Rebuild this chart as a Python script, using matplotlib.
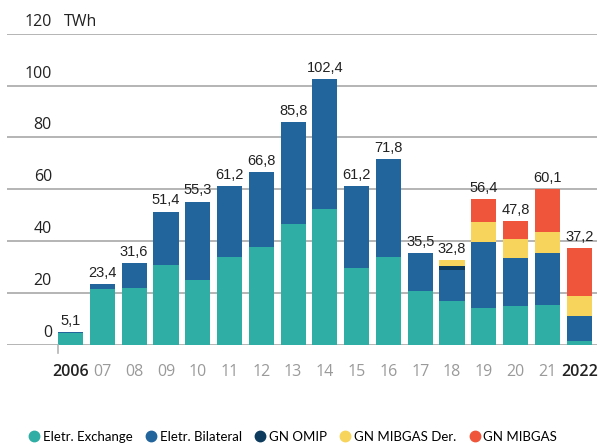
import matplotlib
matplotlib.use("Agg")
import matplotlib.pyplot as plt
from matplotlib.lines import Line2D
import numpy as np

# data (TWh)
years = ["2006", "07", "08", "09", "10", "11", "12", "13", "14", "15",
         "16", "17", "18", "19", "20", "21", "2022"]
eletr_exchange = [4.7, 21.4, 22.1, 30.9, 25.1, 34.0, 37.8, 46.7, 52.5, 29.7,
                  34.0, 21.0, 17.0, 14.4, 15.1, 15.4, 1.5]
eletr_bilateral = [0.4, 2.0, 9.5, 20.5, 30.2, 27.2, 29.0, 39.1, 49.9, 31.5,
                   37.8, 14.5, 12.0, 25.4, 18.5, 20.1, 9.7]
gn_omip = [0, 0, 0, 0, 0, 0, 0, 0, 0, 0, 0, 0, 1.5, 0, 0, 0, 0]
gn_mibgas_der = [0, 0, 0, 0, 0, 0, 0, 0, 0, 0, 0, 0, 2.3, 7.7, 7.3, 8.1, 7.7]
gn_mibgas = [0, 0, 0, 0, 0, 0, 0, 0, 0, 0, 0, 0, 0, 8.9, 6.9, 16.5, 18.3]
totals = ["5,1", "23,4", "31,6", "51,4", "55,3", "61,2", "66,8", "85,8", "102,4",
          "61,2", "71,8", "35,5", "32,8", "56,4", "47,8", "60,1", "37,2"]

series = [
    ("Eletr. Exchange", eletr_exchange, "#2eaea4"),
    ("Eletr. Bilateral", eletr_bilateral, "#22649c"),
    ("GN OMIP", gn_omip, "#0d3b5e"),
    ("GN MIBGAS Der.", gn_mibgas_der, "#f7d45b"),
    ("GN MIBGAS", gn_mibgas, "#ee553b"),
]

W, H = 598, 444
fig = plt.figure(figsize=(W / 100, H / 100), dpi=100)
ax = fig.add_axes([7 / W, (H - 345) / H, 590 / W, (345 - 33.7) / H])

x = np.arange(len(years))
bottom = np.zeros(len(years))
for name, vals, col in series:
    vals = np.array(vals)
    ax.bar(x, vals, width=0.79, bottom=bottom, color=col, zorder=2)
    bottom += vals

for xi, top, lab in zip(x, bottom, totals):
    ax.annotate(lab, (xi, top), xytext=(0, 3), textcoords="offset points",
                ha="center", va="bottom", fontsize=10.5, color="#222222",
                family="Liberation Sans")

ax.set_xlim(-2.0, 16.56)
ax.set_ylim(0, 120)
for s in ax.spines.values():
    s.set_visible(False)
ax.set_xticks([])
ax.set_yticks([])

# gridlines with labels sitting above them
for v in range(0, 121, 20):
    ax.axhline(v, color="#b4b4b4", lw=1.4, zorder=1)
    ax.annotate(str(v), (-2.0, v), xytext=(45, 4), textcoords="offset pixels",
                ha="right", va="bottom", fontsize=11.5, color="#222222",
                family="Open Sans")
ax.annotate("TWh", (-2.0, 120), xytext=(57, 4), textcoords="offset pixels",
            ha="left", va="bottom", fontsize=11.5, color="#222222", family="Open Sans")

# small tick below the axis at the first bar
ax.plot([-0.4, -0.4], [0, -3], color="#b4b4b4", lw=1.2, clip_on=False)

for xi, yl in zip(x, years):
    dark = yl in ("2006", "2022")
    ax.annotate(yl, (xi, 0), xytext=(0, -27), textcoords="offset pixels",
                ha="center", va="center", fontsize=11.5,
                color="#222222" if dark else "#9a9a9a",
                fontweight="semibold" if dark else "normal", family="Open Sans")

handles = [Line2D([], [], marker="o", ls="", markersize=7.5, color=col,
                  label=name) for name, _, col in series]
fig.legend(handles=handles, loc="center left", bbox_to_anchor=(16 / W, 1 - 437 / H),
           ncol=5, frameon=False, handletextpad=0.15, columnspacing=0.9,
           handlelength=1.0, prop={"family": "Lato", "size": 9.5})

fig.savefig("out.png", dpi=100)
